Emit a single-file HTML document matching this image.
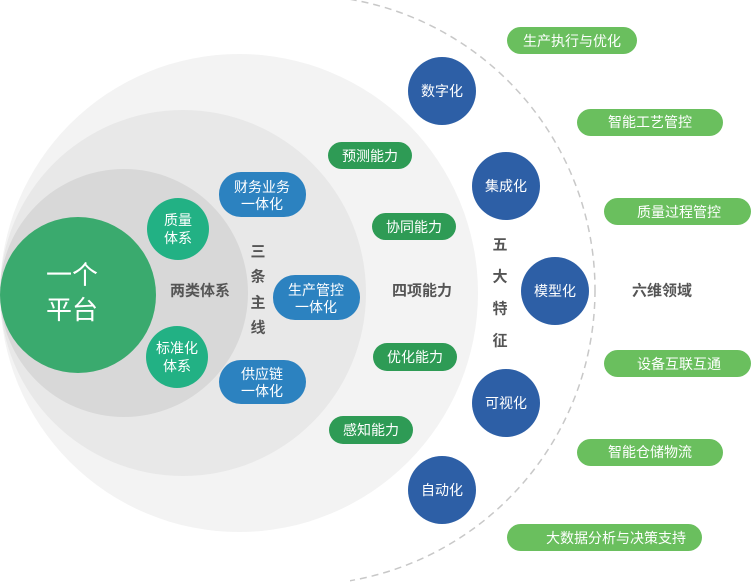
<!DOCTYPE html>
<html><head><meta charset="utf-8"><style>
html,body{margin:0;padding:0;background:#fff;width:752px;height:586px;overflow:hidden}
svg{display:block}
text{font-family:"Liberation Sans","Noto Sans CJK SC",sans-serif;text-anchor:middle;dominant-baseline:central}
.w{fill:#fff;font-size:14px}
.g{fill:#555;font-size:15px;font-weight:bold}
</style></head><body>
<svg width="752" height="586" viewBox="0 0 752 586">
<defs><clipPath id="c"><rect x="350" y="0" width="402" height="586"/></clipPath></defs>
<circle cx="300" cy="290" r="295" fill="none" stroke="#c8c8c8" stroke-width="1.5" stroke-dasharray="7,5" clip-path="url(#c)"/>
<circle cx="239" cy="293" r="239" fill="#f3f3f3"/>
<circle cx="183" cy="293" r="183" fill="#e8e8e8"/>
<circle cx="124" cy="293" r="124" fill="#d8d8d8"/>
<circle cx="78" cy="295" r="78" fill="#3aaa6e"/>
<text x="72" y="275" fill="#fff" font-size="26">一个</text>
<text x="72" y="310" fill="#fff" font-size="26">平台</text>
<ellipse cx="178" cy="229" rx="31" ry="31" fill="#22b184"/>
<text class="w" x="178" y="220">质量</text><text class="w" x="178" y="238">体系</text>
<ellipse cx="177" cy="357" rx="31" ry="31" fill="#22b184"/>
<text class="w" x="177" y="348">标准化</text><text class="w" x="177" y="366">体系</text>
<text class="g" x="200" y="291">两类体系</text>
<text class="g" x="258" y="252">三</text><text class="g" x="258" y="277">条</text><text class="g" x="258" y="303">主</text><text class="g" x="258" y="328">线</text>
<rect x="219" y="172" width="87" height="45" rx="22" fill="#2c82c0"/>
<text class="w" x="262" y="187">财务业务</text><text class="w" x="262" y="204">一体化</text>
<rect x="273" y="275" width="87" height="45" rx="22" fill="#2c82c0"/>
<text class="w" x="316" y="290">生产管控</text><text class="w" x="316" y="307">一体化</text>
<rect x="219" y="360" width="87" height="44" rx="22" fill="#2c82c0"/>
<text class="w" x="262" y="374">供应链</text><text class="w" x="262" y="391">一体化</text>
<rect x="328" y="142" width="84" height="27" rx="13.5" fill="#2e9b55"/><text class="w" x="370" y="156">预测能力</text>
<rect x="372" y="213" width="84" height="27" rx="13.5" fill="#2e9b55"/><text class="w" x="414" y="227">协同能力</text>
<rect x="373" y="343" width="84" height="28" rx="14" fill="#2e9b55"/><text class="w" x="415" y="357">优化能力</text>
<rect x="329" y="416" width="84" height="28" rx="14" fill="#2e9b55"/><text class="w" x="371" y="430">感知能力</text>
<text class="g" x="422" y="291">四项能力</text>
<text class="g" x="500" y="245">五</text><text class="g" x="500" y="277">大</text><text class="g" x="500" y="309">特</text><text class="g" x="500" y="341">征</text>
<g fill="#2d5fa6">
<ellipse cx="442" cy="91" rx="34" ry="34"/>
<ellipse cx="506" cy="186" rx="34" ry="34"/>
<ellipse cx="555" cy="291" rx="34" ry="34"/>
<ellipse cx="506" cy="403" rx="34" ry="34"/>
<ellipse cx="442" cy="490" rx="34" ry="34"/>
</g>
<text class="w" x="442" y="91">数字化</text>
<text class="w" x="506" y="186">集成化</text>
<text class="w" x="555" y="291">模型化</text>
<text class="w" x="506" y="403">可视化</text>
<text class="w" x="442" y="490">自动化</text>
<text class="g" x="662" y="291" fill="#444">六维领域</text>
<g fill="#6abf5e">
<rect x="507" y="27" width="130" height="27" rx="13.5"/>
<rect x="577" y="109" width="146" height="27" rx="13.5"/>
<rect x="604" y="198" width="147" height="27" rx="13.5"/>
<rect x="604" y="350" width="147" height="27" rx="13.5"/>
<rect x="577" y="439" width="146" height="27" rx="13.5"/>
<rect x="507" y="524" width="195" height="27" rx="13.5"/>
</g>
<text class="w" x="572" y="41">生产执行与优化</text>
<text class="w" x="650" y="122">智能工艺管控</text>
<text class="w" x="679" y="212">质量过程管控</text>
<text class="w" x="679" y="364">设备互联互通</text>
<text class="w" x="650" y="452">智能仓储物流</text>
<text class="w" x="616" y="538">大数据分析与决策支持</text>
</svg>
</body></html>
